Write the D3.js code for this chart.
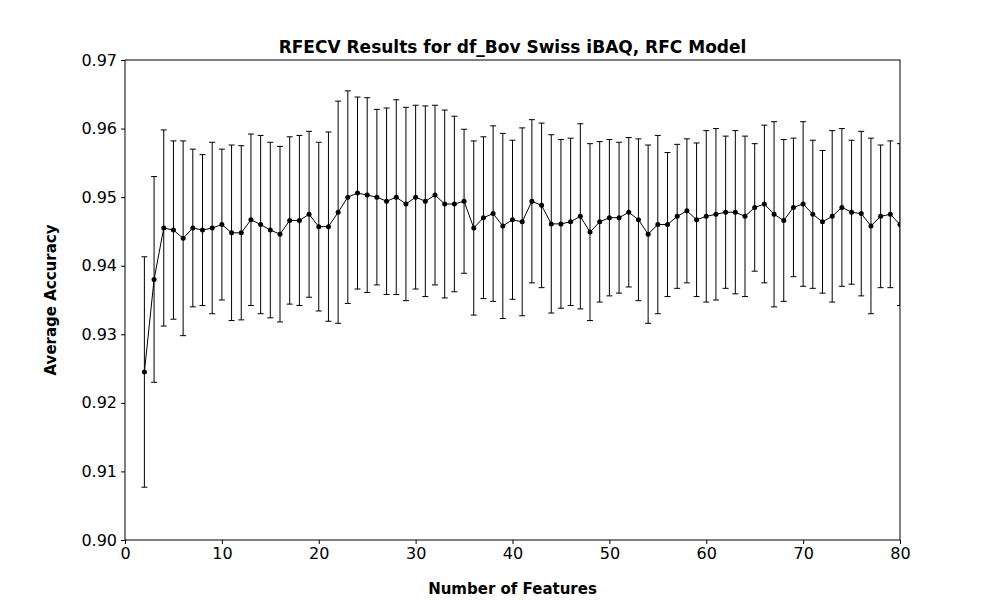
<!DOCTYPE html>
<html>
<head>
<meta charset="utf-8">
<script src="https://cdn.jsdelivr.net/npm/d3@7"></script>
<style>
  body { margin: 0; background: #fff; }
  text { font-family: "DejaVu Sans", sans-serif; }
</style>
</head>
<body>
<svg id="chart" width="1000" height="600"></svg>
<script>
const features = d3.range(2, 81)
const meanAcc = [
  0.9245, 0.938, 0.9455, 0.9452, 0.944, 0.9455, 0.9452, 0.9455, 0.946, 0.9448,
  0.9448, 0.9467, 0.946, 0.9452, 0.9446, 0.9466, 0.9466, 0.9475, 0.9457, 0.9457,
  0.9478, 0.950, 0.9506, 0.9503, 0.950, 0.9494, 0.950, 0.949, 0.950, 0.9494,
  0.9503, 0.949, 0.949, 0.9494, 0.9455, 0.947, 0.9476, 0.9458, 0.9467, 0.9464,
  0.9494, 0.9488, 0.9461, 0.9461, 0.9464, 0.9472, 0.9449, 0.9464, 0.947, 0.947,
  0.9478, 0.9467, 0.9446, 0.946, 0.946, 0.9472, 0.948, 0.9467, 0.9472, 0.9475,
  0.9478, 0.9478, 0.9472, 0.9485, 0.949, 0.9475, 0.9466, 0.9485, 0.949, 0.9475,
  0.9464, 0.9472, 0.9485, 0.9478, 0.9476, 0.9458, 0.9472, 0.9475, 0.946
]
const stdAcc = [
  0.0168, 0.015, 0.0143, 0.013, 0.0142, 0.0115, 0.011, 0.0125, 0.011, 0.0128,
  0.0127, 0.0125, 0.013, 0.0128, 0.0128, 0.0122, 0.0124, 0.0121, 0.0123, 0.0138,
  0.0162, 0.0155, 0.014, 0.0142, 0.0128, 0.0136, 0.0142, 0.0141, 0.0134, 0.0139,
  0.0131, 0.0137, 0.0128, 0.0105, 0.0127, 0.0118, 0.0128, 0.0135, 0.0116, 0.0137,
  0.0119, 0.012, 0.013, 0.0123, 0.0122, 0.0135, 0.0129, 0.0117, 0.0114, 0.011,
  0.0109, 0.0118, 0.013, 0.013, 0.0105, 0.0105, 0.0105, 0.0112, 0.0125, 0.0125,
  0.0111, 0.0119, 0.0117, 0.0093, 0.0115, 0.0135, 0.0118, 0.0101, 0.012, 0.0108,
  0.0104, 0.0125, 0.0115, 0.0105, 0.012, 0.0128, 0.0104, 0.0107, 0.0118
]
const xTicks = [0, 10, 20, 30, 40, 50, 60, 70, 80]
const yTicks = [0.90, 0.91, 0.92, 0.93, 0.94, 0.95, 0.96, 0.97]

const data = features.map((f, i) => ({ f, m: meanAcc[i], s: stdAcc[i] }))
const mLeft = 125, mRight = 900, mTop = 60, mBottom = 540

const svg = d3.select('#chart')
const x = d3.scaleLinear().domain([0, 80]).range([mLeft, mRight])
const y = d3.scaleLinear().domain([0.90, 0.97]).range([mBottom, mTop])

// clip like matplotlib axes
svg.append('clipPath').attr('id', 'clip').append('rect')
  .attr('x', mLeft).attr('y', mTop).attr('width', mRight - mLeft).attr('height', mBottom - mTop)
const plot = svg.append('g').attr('clip-path', 'url(#clip)')

const bars = plot.selectAll('.err').data(data).enter().append('g').attr('class', 'err')
bars.append('line')
  .attr('x1', d => x(d.f)).attr('x2', d => x(d.f))
  .attr('y1', d => y(d.m - d.s)).attr('y2', d => y(d.m + d.s))
  .attr('stroke', 'black').attr('stroke-width', 1)
bars.selectAll('.cap').data(d => [d.m - d.s, d.m + d.s].map(v => ({ f: d.f, v })))
  .enter().append('line')
  .attr('x1', d => x(d.f) - 3).attr('x2', d => x(d.f) + 3)
  .attr('y1', d => y(d.v)).attr('y2', d => y(d.v))
  .attr('stroke', 'black').attr('stroke-width', 1)

plot.append('path').datum(data)
  .attr('fill', 'none').attr('stroke', 'black').attr('stroke-width', 1)
  .attr('d', d3.line().x(d => x(d.f)).y(d => y(d.m)))
plot.selectAll('.pt').data(data).enter().append('circle')
  .attr('cx', d => x(d.f)).attr('cy', d => y(d.m)).attr('r', 2.5).attr('fill', 'black')

const xAxis = svg.append('g').attr('transform', `translate(0,${mBottom})`)
  .call(d3.axisBottom(x).tickValues(xTicks).tickSize(4).tickPadding(4).tickFormat(d3.format('d')))
const yAxis = svg.append('g').attr('transform', `translate(${mLeft},0)`)
  .call(d3.axisLeft(y).tickValues(yTicks).tickSize(4).tickPadding(4).tickFormat(d3.format('.2f')))
for (const a of [xAxis, yAxis]) {
  a.select('.domain').remove()
  a.selectAll('text').style('font-size', '16px').attr('fill', 'black')
  a.selectAll('line').attr('stroke', 'black')
}
svg.append('rect').attr('x', mLeft).attr('y', mTop).attr('width', mRight - mLeft).attr('height', mBottom - mTop)
  .attr('fill', 'none').attr('stroke', 'black').attr('stroke-width', 1)

svg.append('text').attr('x', (mLeft + mRight) / 2).attr('y', 53).attr('text-anchor', 'middle')
  .style('font-size', '17px').style('font-weight', 'bold').text('RFECV Results for df_Bov Swiss iBAQ, RFC Model')
svg.append('text').attr('x', (mLeft + mRight) / 2).attr('y', 594).attr('text-anchor', 'middle')
  .style('font-size', '15px').style('font-weight', 'bold').text('Number of Features')
svg.append('text').attr('transform', `translate(56,${(mTop + mBottom) / 2}) rotate(-90)`).attr('text-anchor', 'middle')
  .style('font-size', '15px').style('font-weight', 'bold').text('Average Accuracy')
</script>
</body>
</html>
